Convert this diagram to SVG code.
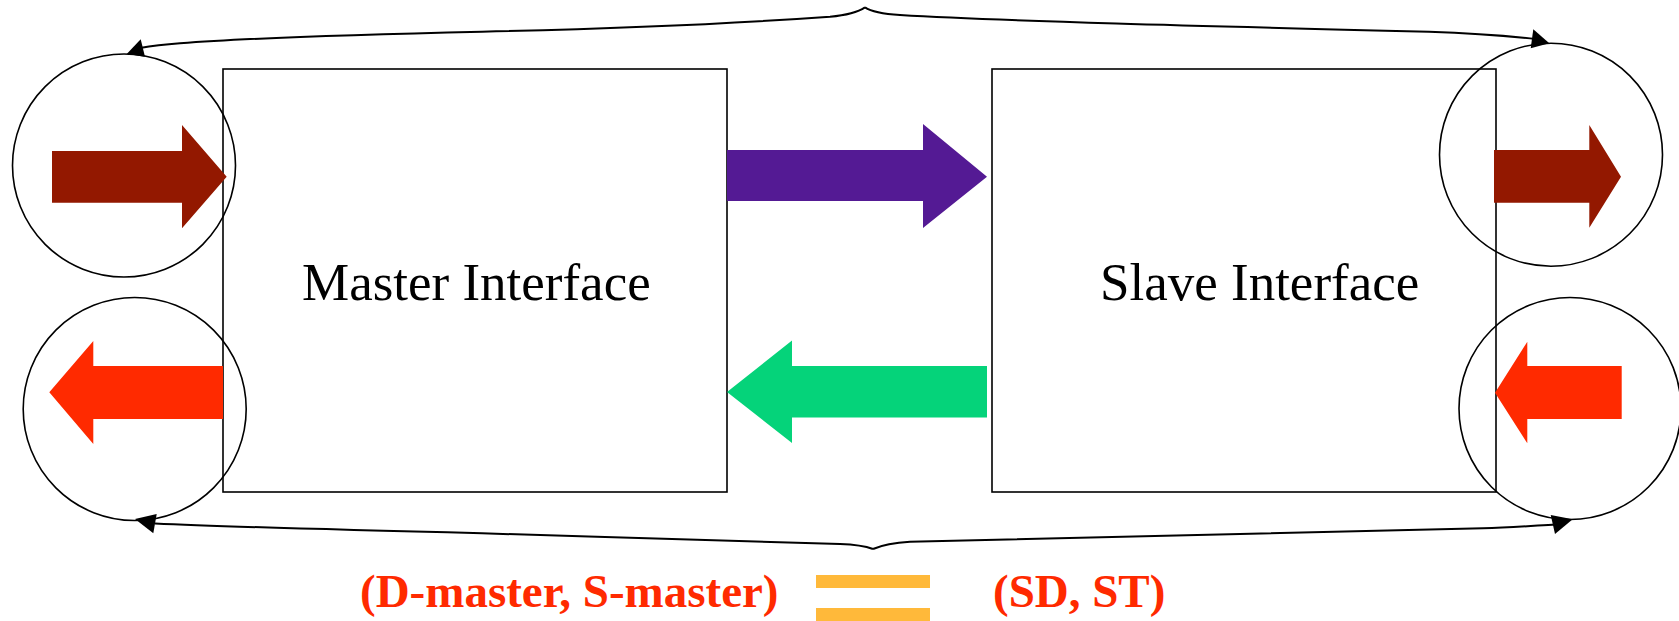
<svg xmlns="http://www.w3.org/2000/svg" width="1679" height="621" viewBox="0 0 1679 621">
<style>
.box{fill:#fff;stroke:#000;stroke-width:1.6}
.ring{fill:none;stroke:#000;stroke-width:1.6}
.line{fill:none;stroke:#000;stroke-width:2}
.head{fill:#000}
.lbl{font-family:"Liberation Serif","Times New Roman",serif;font-size:53px;fill:#000}
.eq{font-family:"Liberation Serif","Times New Roman",serif;font-size:47px;font-weight:bold;fill:#FF2A00}
.dark{fill:#931800}
.bright{fill:#FF2A00}
</style>
<rect width="1679" height="621" fill="#fff"/>
<g id="master">
<rect class="box" x="223" y="69" width="504" height="423"/>
<text class="lbl" x="302" y="300">Master Interface</text>
</g>
<g id="slave">
<rect class="box" x="992" y="69" width="504" height="423"/>
<text class="lbl" x="1100" y="300">Slave Interface</text>
</g>
<g id="master-in">
<circle class="ring" cx="124" cy="165.5" r="111.5"/>
<polygon class="dark" points="52,151 182,151 182,125 226.7,176.7 182,228.3 182,202.7 52,202.7"/>
</g>
<g id="master-out">
<circle class="ring" cx="134.7" cy="409" r="111.5"/>
<polygon class="bright" points="223,366 93.3,366 93.3,341 49.3,392.3 93.3,444 93.3,419 223,419"/>
</g>
<g id="slave-out">
<circle class="ring" cx="1551" cy="154.7" r="111.5"/>
<polygon class="dark" points="1494,150 1589.3,150 1589.3,125 1621,176.7 1589.3,227.7 1589.3,202.7 1494,202.7"/>
</g>
<g id="slave-in">
<circle class="ring" cx="1570" cy="408.5" r="111"/>
<polygon class="bright" points="1621.7,366 1527.3,366 1527.3,341.7 1495,392.7 1527.3,443.3 1527.3,419 1621.7,419"/>
</g>
<g id="data-arrows">
<polygon fill="#541A94" points="727,150 923,150 923,124 987,176.7 923,228 923,201 727,201"/>
<polygon fill="#05D37A" points="987,366 792,366 792,340.5 727,392 792,443 792,417.6 987,417.6"/>
</g>
<g id="connectors">
<path class="line" d="M865,7.3 C858,12 848,15 830,16.7 C770,21 650,28 482,31.7 C380,34 260,37 180,43.3 C165,44.5 152,46 140,48"/>
<polygon class="head" points="140.7,39.3 126.7,54 145,56.7"/>
<path class="line" d="M865,7.3 C872,12 885,14 900,15 C1000,21 1200,26 1429,31.7 C1470,33 1500,35 1536,39"/>
<polygon class="head" points="1549.3,43.3 1533.3,29.3 1530.7,48.3"/>
<path class="line" d="M873,549 C865,546 855,544.5 840,544 C700,540 600,537 482,533.3 C350,530 230,527 155,523.5"/>
<polygon class="head" points="135,519 156.7,514 153.3,533.3"/>
<path class="line" d="M873,549 C882,545 895,542.5 910,541.7 C1000,538 1200,534.8 1483,528.3 C1510,527.5 1530,526 1556,524.5"/>
<polygon class="head" points="1572.7,519.3 1550.7,515 1555,534"/>
</g>
<g id="legend">
<text class="eq" x="360" y="607">(D-master, S-master)</text>
<rect x="816" y="575" width="114" height="13" fill="#FFB93A"/>
<rect x="816" y="608" width="114" height="13" fill="#FFB93A"/>
<text class="eq" x="993" y="607">(SD, ST)</text>
</g>
</svg>
